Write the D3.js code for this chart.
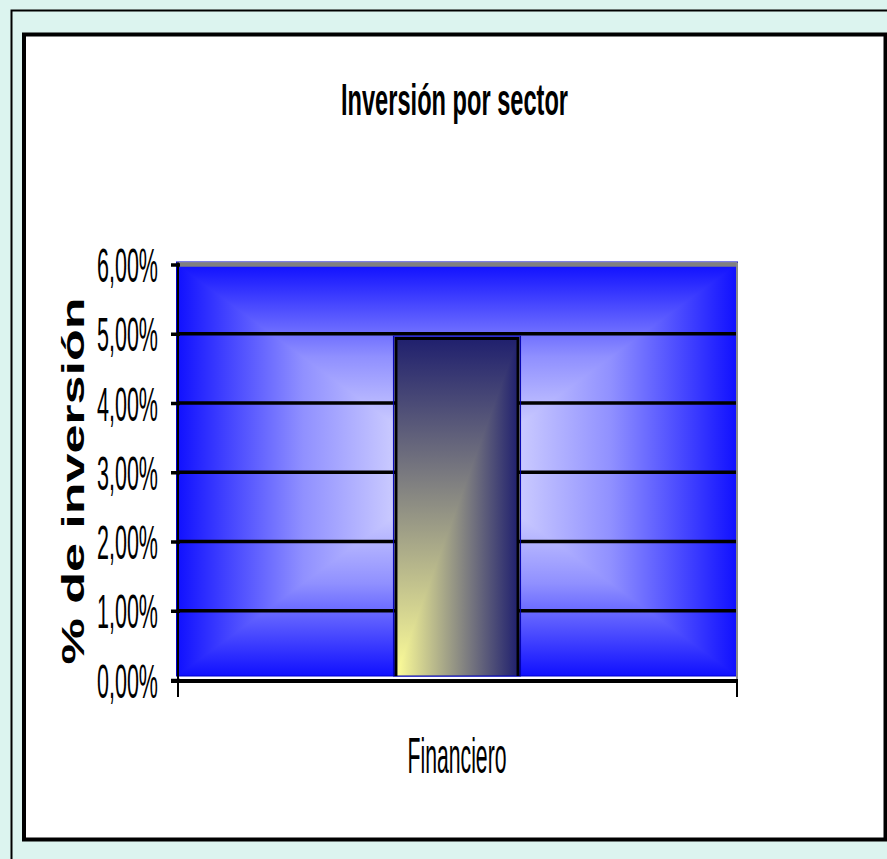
<!DOCTYPE html>
<html>
<head>
<meta charset="utf-8">
<script src="https://cdn.jsdelivr.net/npm/d3@7"></script>
<style>
  html, body { margin: 0; padding: 0; background: #dcf4ef; overflow: hidden; }
  svg { display: block; }
</style>
</head>
<body>
<svg id="chart" width="887" height="859"></svg>
<script>
// ---- data ----
const categories = ["Financiero"];
const values = [4.93];                       // % de inversión
const yTicks = [0, 1, 2, 3, 4, 5, 6];
const yTickLabels = ["0,00%", "1,00%", "2,00%", "3,00%", "4,00%", "5,00%", "6,00%"];
const chartTitle = "Inversión por sector";
const yTitle = "% de inversión";

// ---- setup ----
const W = 887, H = 859;
const FONT = "'Liberation Sans', Arial, Helvetica, sans-serif";
const svg = d3.select("#chart");

const x = d3.scaleBand().domain(categories).range([177, 737])
  .paddingInner(0.642).paddingOuter(0.642);
const y = d3.scaleLinear().domain([0, 6]).range([680, 264.5]);

const px0 = x.range()[0], px1 = x.range()[1];
const py0 = y(6), py1 = y(0) - 4;              // plot fill stops just above the axis line
const cx = (px0 + px1) / 2, cy = (py0 + py1) / 2;

// ---- page frame ----
svg.append("rect").attr("width", W).attr("height", H).attr("fill", "#dcf4ef");
svg.append("rect").attr("x", 11.5).attr("y", 10.5).attr("width", W + 20).attr("height", H + 20)
  .attr("fill", "none").attr("stroke", "#000").attr("stroke-width", 2);
svg.append("rect").attr("x", 24).attr("y", 34.5).attr("width", 861.5).attr("height", 805)
  .attr("fill", "#fff").attr("stroke", "#000").attr("stroke-width", 4);

// ---- gradients ----
const defs = svg.append("defs");
const edgeBlue = "#1010ff", centerBlue = "#f2f2ff";
function lin(id, x1, y1, x2, y2, stops) {
  const g = defs.append("linearGradient").attr("id", id)
    .attr("gradientUnits", "userSpaceOnUse")
    .attr("x1", x1).attr("y1", y1).attr("x2", x2).attr("y2", y2);
  stops.forEach(([o, c]) => g.append("stop").attr("offset", o).attr("stop-color", c));
}
const plotStops = [[0, edgeBlue], [0.45, "#9090ff"], [1, centerBlue]];
lin("pg-top", cx, py0, cx, cy, plotStops);
lin("pg-bottom", cx, py1, cx, cy, plotStops);
lin("pg-left", px0, cy, cx, cy, plotStops);
lin("pg-right", px1, cy, cx, cy, plotStops);

// ---- plot area: rectangular gradient from the centre ----
const plot = svg.append("g");
const tri = pts => "M" + pts.map(p => p.join(",")).join("L") + "Z";
[
  ["pg-top",    [[px0, py0], [px1, py0], [cx, cy]]],
  ["pg-bottom", [[px0, py1], [px1, py1], [cx, cy]]],
  ["pg-left",   [[px0, py0], [px0, py1], [cx, cy]]],
  ["pg-right",  [[px1, py0], [px1, py1], [cx, cy]]]
].forEach(([id, pts]) => plot.append("path").attr("d", tri(pts))
  .attr("fill", `url(#${id})`).attr("shape-rendering", "crispEdges"));
plot.append("rect").attr("x", px0 - 0.5).attr("y", py0 - 2.5)
  .attr("width", px1 - px0 + 1).attr("height", py1 - py0 + 2.5)
  .attr("fill", "none").attr("stroke", "#0000c8").attr("stroke-width", 1);

// ---- gridlines ----
svg.append("g").selectAll("line").data(yTicks.filter(d => d > 0)).join("line")
  .attr("x1", px0).attr("x2", px1)
  .attr("y1", d => y(d)).attr("y2", d => y(d))
  .attr("stroke", d => d === 6 ? "#808080" : "#000")
  .attr("stroke-width", d => d === 6 ? 4.5 : 3.5);

// ---- bar: gradient from the lower-left corner ----
const barG = svg.append("g");
categories.forEach((cat, i) => {
  const bx0 = x(cat), bx1 = x(cat) + x.bandwidth();
  const by0 = y(values[i]), by1 = py1;
  const yellow = "#ffff99", navy = "#20206e";
  lin("bar-v-" + i, bx0, by1, bx0, by0, [[0, yellow], [1, navy]]);
  lin("bar-h-" + i, bx0, by1, bx1, by1, [[0, yellow], [1, navy]]);
  barG.append("path").attr("d", tri([[bx0, by1], [bx0, by0], [bx1, by0]]))
    .attr("fill", `url(#bar-v-${i})`).attr("shape-rendering", "crispEdges");
  barG.append("path").attr("d", tri([[bx0, by1], [bx1, by0], [bx1, by1]]))
    .attr("fill", `url(#bar-h-${i})`).attr("shape-rendering", "crispEdges");
  barG.append("rect").attr("x", bx0 - 2.5).attr("y", by0 - 2.5)
    .attr("width", bx1 - bx0 + 5).attr("height", by1 - by0 + 2.5)
    .attr("fill", "none").attr("stroke", "#0000b0").attr("stroke-width", 1);
  barG.append("path")
    .attr("d", `M${bx0},${by1}V${by0}H${bx1}V${by1}`)
    .attr("fill", "none").attr("stroke", "#000").attr("stroke-width", 3);
});

// ---- axes ----
// plot-area side edges
svg.append("line").attr("x1", px0 + 1).attr("x2", px0 + 1).attr("y1", py0 - 2).attr("y2", y(0))
  .attr("stroke", "#000").attr("stroke-width", 2);
svg.append("line").attr("x1", px1).attr("x2", px1).attr("y1", py0 - 2).attr("y2", y(0))
  .attr("stroke", "#8a8a8a").attr("stroke-width", 2);

const yAxis = d3.axisLeft(y).tickValues(yTicks)
  .tickFormat((d, i) => yTickLabels[i]).tickSize(9).tickPadding(13);
const ya = svg.append("g").attr("transform", `translate(${px0 + 3},0)`).call(yAxis);
ya.select(".domain").remove();
ya.selectAll(".tick line").attr("stroke", "#000").attr("stroke-width", 3.5);
ya.selectAll(".tick text")
  .attr("font-family", FONT).attr("font-size", 48).attr("fill", "#000")
  .attr("dy", null).attr("y", 17)
  .attr("textLength", 61).attr("lengthAdjust", "spacingAndGlyphs");

// x axis line and category ticks at the band edges
svg.append("line").attr("x1", px0 - 6).attr("x2", px1 + 1).attr("y1", y(0) + 1).attr("y2", y(0) + 1)
  .attr("stroke", "#000").attr("stroke-width", 4);
svg.append("g").selectAll("line").data([px0 + 1, px1]).join("line")
  .attr("x1", d => d).attr("x2", d => d).attr("y1", y(0)).attr("y2", y(0) + 17)
  .attr("stroke", "#000").attr("stroke-width", 2);

svg.append("g").selectAll("text").data(categories).join("text")
  .attr("x", d => x(d) + x.bandwidth() / 2).attr("y", 773)
  .attr("text-anchor", "middle")
  .attr("font-family", FONT).attr("font-size", 50).attr("fill", "#000")
  .attr("textLength", 99).attr("lengthAdjust", "spacingAndGlyphs")
  .text(d => d);

// ---- titles ----
svg.append("text").attr("x", 341).attr("y", 115)
  .attr("font-family", FONT).attr("font-size", 45).attr("font-weight", "bold").attr("fill", "#000")
  .attr("textLength", 227).attr("lengthAdjust", "spacingAndGlyphs")
  .text(chartTitle);

svg.append("text").attr("transform", "translate(84,481) rotate(-90)")
  .attr("text-anchor", "middle")
  .attr("font-family", FONT).attr("font-size", 31).attr("font-weight", "bold").attr("fill", "#000")
  .attr("textLength", 367).attr("lengthAdjust", "spacingAndGlyphs")
  .text(yTitle);
</script>
</body>
</html>
